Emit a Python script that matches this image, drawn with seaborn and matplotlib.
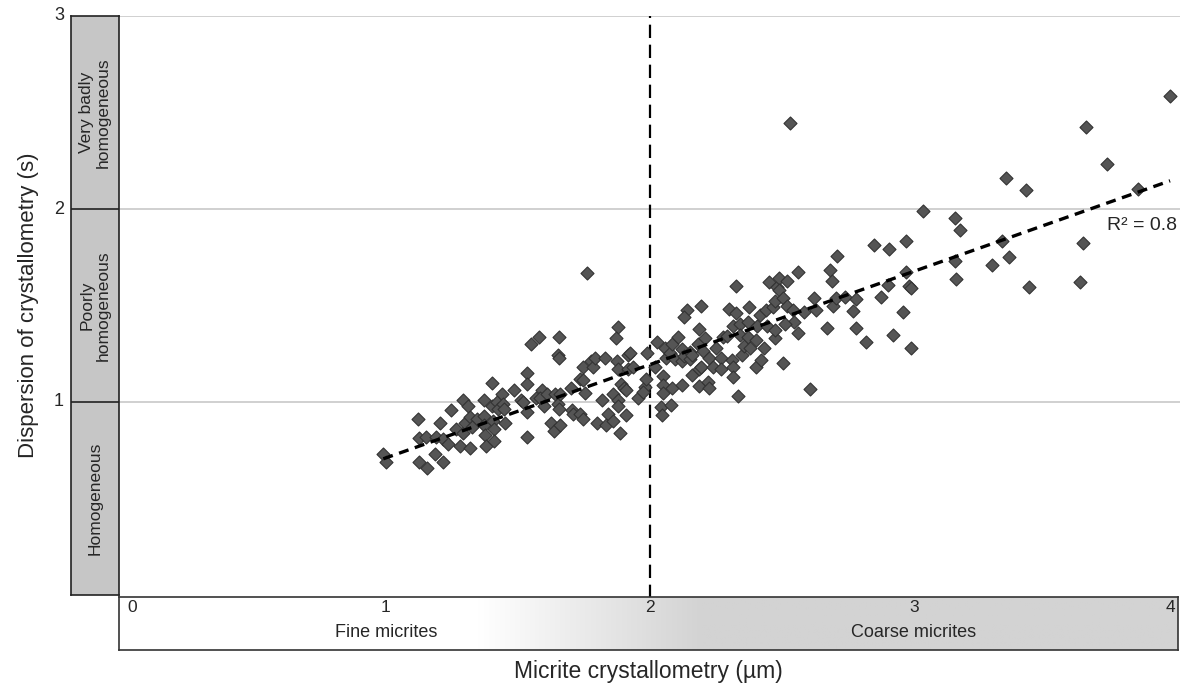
import numpy as np
import pandas as pd
import matplotlib
matplotlib.use("Agg")
import matplotlib.pyplot as plt
from matplotlib.colors import LinearSegmentedColormap
import seaborn as sns

# micrite size (µm)
size_um = [
    0.99, 1.00, 1.12, 1.125, 1.15, 1.125, 1.155, 1.185, 1.19, 1.205, 1.215, 1.215,
    1.235, 1.245, 1.265, 1.28, 1.29, 1.29, 1.30, 1.31, 1.32, 1.32, 1.345, 1.325,
    1.37, 1.37, 1.37, 1.375, 1.38, 1.40, 1.40, 1.405, 1.41, 1.41, 1.42, 1.425,
    1.44, 1.443, 1.447, 1.45, 1.485, 1.51, 1.52, 1.535, 1.535, 1.535, 1.535, 1.55, 1.57,
    1.58, 1.655, 1.65, 1.655, 1.76, 1.88, 1.87, 1.59, 1.585, 1.60, 1.61, 1.64,
    1.65, 1.66, 1.655, 1.625, 1.635, 1.66, 1.70, 1.705, 1.71, 1.735, 1.745, 1.745,
    1.755, 1.735, 1.745, 1.775, 1.785, 1.79, 1.83, 1.82, 1.80, 1.84, 1.835, 1.86,
    1.86, 1.88, 1.88, 1.885, 1.91, 1.875, 1.88, 1.89, 1.90, 1.91, 1.915, 1.925,
    1.915, 1.935, 1.955, 1.98, 1.985, 1.99, 1.975,
    2.025, 2.02, 2.055, 2.06, 2.05, 2.05, 2.05, 2.04, 2.045, 2.08, 2.085, 2.12,
    2.075, 2.085, 2.095, 2.105, 2.12, 2.12, 2.13, 2.14, 2.13, 2.15, 2.15, 2.16,
    2.195, 2.185, 2.18, 2.20, 2.16, 2.185, 2.195, 2.185, 2.22, 2.225, 2.21, 2.225,
    2.24, 2.25, 2.27, 2.27, 2.275, 2.29, 2.30, 2.325, 2.315, 2.325, 2.34, 2.34,
    2.31, 2.315, 2.315, 2.35, 2.355, 2.37, 2.375, 2.37, 2.38, 2.40, 2.405, 2.415,
    2.40, 2.42, 2.43, 2.335, 2.45, 2.44, 2.465, 2.445, 2.475, 2.48, 2.475,
    3.035, 3.155, 3.175, 2.85, 2.905, 2.97, 2.71, 2.56, 2.68, 2.69, 2.97, 3.155,
    3.16, 2.49, 2.52, 2.49, 2.505, 2.52, 2.54, 2.545, 2.51, 2.475, 2.56, 2.585,
    2.62, 2.63, 2.695, 2.705, 2.74, 2.78, 2.67, 2.77, 2.78, 2.82, 2.875, 2.90,
    2.96, 2.92, 2.99, 2.98, 2.99, 2.505, 2.605, 2.53,
    3.97, 3.65, 3.73, 3.85, 3.35, 3.425, 3.335, 3.36, 3.295, 3.435, 3.64, 3.63,
]
# dispersion (s)
dispersion = [
    0.73, 0.69, 0.91, 0.815, 0.82, 0.69, 0.66, 0.73, 0.82, 0.89, 0.81, 0.69,
    0.78, 0.96, 0.86, 0.77, 1.01, 0.84, 0.89, 0.98, 0.76, 0.92, 0.91, 0.87,
    1.01, 0.93, 0.88, 0.83, 0.77, 1.10, 0.98, 0.90, 0.86, 0.80, 1.00, 0.965,
    1.04, 0.99, 0.965, 0.89, 1.06, 1.01, 1.00, 0.95, 1.15, 1.095, 0.82, 1.30, 1.02,
    1.335, 1.335, 1.245, 1.23, 1.67, 1.39, 1.33, 1.06, 1.02, 0.98, 1.04, 1.04,
    0.99, 1.04, 0.965, 0.89, 0.85, 0.88, 1.075, 0.96, 0.94, 1.12, 1.115, 1.18,
    1.045, 0.94, 0.91, 1.215, 1.18, 1.23, 1.23, 1.01, 0.89, 0.94, 0.88, 0.90,
    1.04, 1.01, 0.98, 0.84, 0.935, 1.215, 1.17, 1.095, 1.075, 1.06, 1.245, 1.255,
    1.17, 1.18, 1.02, 1.08, 1.12, 1.255, 1.05,
    1.31, 1.18, 1.28, 1.23, 1.135, 1.09, 1.045, 0.975, 0.935, 0.985, 1.075, 1.09,
    1.255, 1.30, 1.225, 1.335, 1.275, 1.21, 1.24, 1.475, 1.44, 1.26, 1.225, 1.245,
    1.495, 1.38, 1.30, 1.265, 1.14, 1.17, 1.18, 1.085, 1.105, 1.075, 1.33, 1.23,
    1.18, 1.28, 1.23, 1.17, 1.335, 1.34, 1.48, 1.60, 1.395, 1.46, 1.405, 1.345,
    1.22, 1.18, 1.13, 1.245, 1.29, 1.335, 1.49, 1.415, 1.28, 1.32, 1.395, 1.45,
    1.18, 1.22, 1.28, 1.03, 1.62, 1.475, 1.49, 1.395, 1.33, 1.595, 1.525,
    1.99, 1.955, 1.89, 1.815, 1.795, 1.835, 1.755, 1.675, 1.685, 1.625, 1.675, 1.73,
    1.635, 1.64, 1.625, 1.58, 1.54, 1.495, 1.475, 1.415, 1.405, 1.375, 1.355, 1.465,
    1.54, 1.475, 1.495, 1.54, 1.545, 1.535, 1.385, 1.47, 1.385, 1.31, 1.545, 1.605,
    1.465, 1.345, 1.28, 1.60, 1.59, 1.20, 1.065, 2.445,
    2.585, 2.425, 2.235, 2.105, 2.16, 2.10, 1.835, 1.75, 1.71, 1.595, 1.825, 1.62,
]

x_ticks = [0, 1, 2, 3, 4]
y_ticks = [1, 2, 3]
size_classes = ["Fine micrites", "Coarse micrites"]
class_pos = [1, 3]
homog_classes = ["Homogeneous", "Poorly\nhomogeneous", "Very badly\nhomogeneous"]
homog_bounds = [0, 1, 2, 3]
size_limit = 2
r2_label = "R\u00b2 = 0.8"

df = pd.DataFrame({"size": size_um, "disp": dispersion})

sns.set_style("white")
plt.rcParams["font.family"] = ["Liberation Sans", "DejaVu Sans"]

W, H = 1184, 684
fig = plt.figure(figsize=(W / 100, H / 100), dpi=100)


def px_axes(x0, y0, x1, y1):
    return fig.add_axes([x0 / W, 1 - y1 / H, (x1 - x0) / W, (y1 - y0) / H])


# main scatter panel
ax = px_axes(119, 16, 1180, 595)
xlo = (119 - 122) / 264
xhi = (1180 - 122) / 264
ax.set_xlim(xlo, xhi)
ax.set_ylim(0, 3)
for s in ax.spines.values():
    s.set_visible(False)
ax.set_xticks([])
ax.set_yticks([])
for yv in y_ticks:
    ax.axhline(yv, color="#c4c4c4", lw=1.1, zorder=0)
ax.axvline(size_limit, ymin=-0.005, color="black", lw=1.6, ls=(0, (6, 3)), zorder=1,
           clip_on=False)

sns.scatterplot(data=df, x="size", y="disp", ax=ax, marker="D", s=44,
                color="#555555", edgecolor="#333333", linewidth=0.8, zorder=3,
                legend=False)
sns.regplot(data=df, x="size", y="disp", ax=ax, scatter=False, ci=None, truncate=True,
            line_kws={"color": "black", "lw": 2.4, "ls": (0, (3, 2)), "zorder": 4})
ax.set_xlabel("")
ax.set_ylabel("")
ax.text(3.995, 1.915, r2_label, ha="right", va="center", fontsize=14, zorder=5)

# left classification band
axl = px_axes(71, 16, 119, 595)
axl.set_xlim(0, 1)
axl.set_ylim(0, 3)
axl.set_facecolor("#c6c6c6")
for s in axl.spines.values():
    s.set_color("#222222")
    s.set_linewidth(1.2)
axl.set_xticks([])
axl.set_yticks(y_ticks)
axl.set_yticklabels([str(v) for v in y_ticks], fontsize=13)
axl.tick_params(axis="y", length=0, pad=5)
for lab in axl.get_yticklabels():
    lab.set_verticalalignment("center")
for b in homog_bounds[1:-1]:
    axl.axhline(b, color="#222222", lw=1.2)
for lo, hi, name in zip(homog_bounds[:-1], homog_bounds[1:], homog_classes):
    axl.text(0.5, (lo + hi) / 2, name, rotation=90, ha="center", va="center",
             fontsize=12.5, linespacing=1.1)
axl.set_ylabel("Dispersion of crystallometry (s)", fontsize=16, labelpad=11)

# bottom size band with gradient
axb = px_axes(119, 597, 1178, 650)
bxhi = (1178 - 122) / 264
axb.set_xlim(xlo, bxhi)
axb.set_ylim(0, 1)
grad_x = np.linspace(xlo, bxhi, 600)
grad = np.clip((grad_x - 1.35) / 0.85, 0, 1)[None, :]
cmap = LinearSegmentedColormap.from_list("band", ["#ffffff", "#d3d3d3"])
axb.imshow(grad, cmap=cmap, vmin=0, vmax=1, aspect="auto",
           extent=[xlo, bxhi, 0, 1], zorder=0)
for s in axb.spines.values():
    s.set_color("#333333")
    s.set_linewidth(1.2)
axb.set_xticks([])
axb.set_yticks([])
for t in x_ticks:
    ha = "left" if t == 0 else ("right" if t == x_ticks[-1] else "center")
    xt = t + 0.02 if t == 0 else (t - 0.01 if t == x_ticks[-1] else t)
    axb.text(xt, 0.80, str(t), ha=ha, va="center", fontsize=12.5)
for pos, name in zip(class_pos, size_classes):
    axb.text(pos, 0.33, name, ha="center", va="center", fontsize=13)
axb.set_xlabel("Micrite crystallometry (\u00b5m)", fontsize=16.5, labelpad=7)

fig.savefig("out.png", dpi=100)
